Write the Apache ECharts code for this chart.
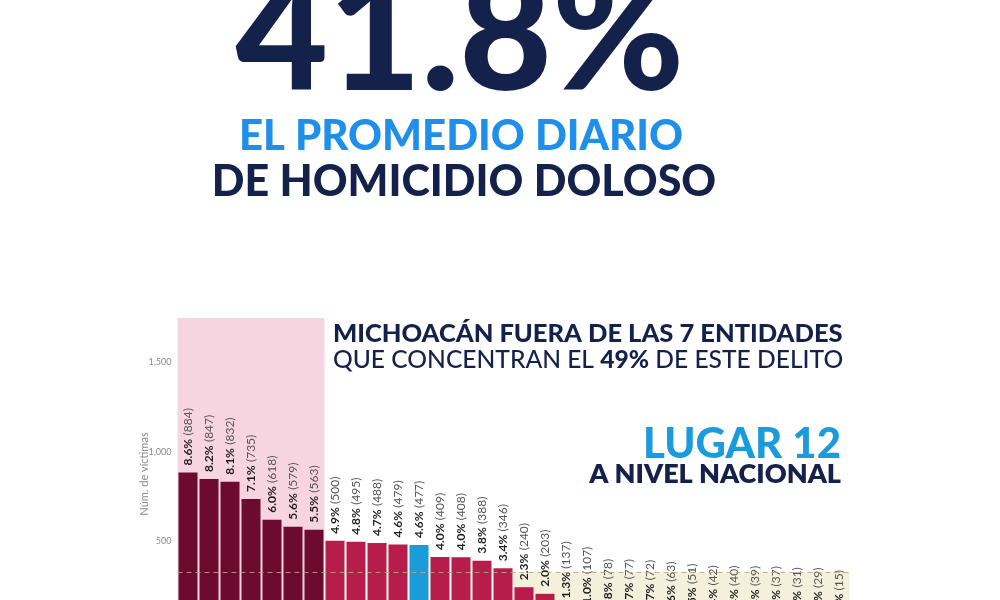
<!DOCTYPE html>
<html>
<head>
<meta charset="utf-8">
<script src="https://cdn.jsdelivr.net/npm/echarts@6/dist/echarts.min.js"></script>
<style>
html,body{margin:0;padding:0;background:#fff;overflow:hidden;}
#c{width:1000px;height:630px;}
</style>
</head>
<body>
<div id="c"></div>
<script>
// ---- data ----
const categories = ['1','2','3','4','5','6','7','8','9','10','11','Michoacán','13','14','15','16',
  '17','18','19','20','21','22','23','24','25','26','27','28','29','30','31','32'];
const victims = [884,847,832,735,618,579,563,500,495,488,479,477,409,408,388,346,
  240,203,137,107,78,77,72,63,51,42,40,39,37,31,29,15];
const pctLabels = ['8.6%','8.2%','8.1%','7.1%','6.0%','5.6%','5.5%','4.9%','4.8%','4.7%','4.6%','4.6%',
  '4.0%','4.0%','3.8%','3.4%','2.3%','2.0%','1.3%','1.0%','0.8%','0.7%','0.7%','0.6%','0.5%',
  '0.4%','0.4%','0.4%','0.4%','0.3%','0.3%','0.1%'];
const yTicks = [500, 1000, 1500];
const topGroupCount = 7;      // the 7 entities that concentrate 49%
const highlightIndex = 11;    // Michoacán, place 12

// ---- styles ----
const NAVY = '#14214b';
const BLUE = '#1f8fea';
const CYAN = '#1a9bdc';
const MAROON = '#6c0b2d';
const CRIMSON = '#b71d4a';
const HILITE = '#1c9bd6';
const FONT = 'Lato, Inter, "Noto Sans", sans-serif';

const avg = victims.reduce((a, b) => a + b, 0) / victims.length;
const firstBelow = victims.findIndex(v => v < avg);

const chart = echarts.init(document.getElementById('c'), null, {renderer: 'canvas'});

const option = {
  backgroundColor: '#ffffff',
  animation: false,
  grid: {left: 177.5, right: 150.5, top: 318, bottom: 0, containLabel: false},
  xAxis: [
    {type: 'category', data: categories, axisLine: {show: false}, axisTick: {show: false},
     axisLabel: {show: false}, splitLine: {show: false}},
    {type: 'value', min: 0, max: categories.length, show: false}
  ],
  yAxis: {
    type: 'value', min: 0, max: 1750, interval: 500,
    axisLine: {show: false}, axisTick: {show: false}, splitLine: {show: false},
    axisLabel: {
      color: '#8a8a8a', fontSize: 9, fontFamily: FONT, margin: 6,
      formatter: v => yTicks.indexOf(v) >= 0 ? v.toLocaleString('en-US') : ''
    },
    name: 'Núm. de víctimas', nameLocation: 'middle', nameGap: 28, nameRotate: 90,
    nameMoveOverlap: false,
    nameTextStyle: {color: '#8a8a8a', fontSize: 11, fontFamily: FONT}
  },
  graphic: [
    {type: 'text', z: 10, style: {text: '41.8%', x: 460, y: 38, fill: NAVY,
      font: '900 160px ' + FONT, align: 'center', verticalAlign: 'middle'}},
    {type: 'text', z: 10, style: {text: 'EL PROMEDIO DIARIO', x: 461, y: 136, fill: BLUE,
      font: '900 42px ' + FONT, align: 'center', verticalAlign: 'middle'}},
    {type: 'text', z: 10, style: {text: 'DE HOMICIDIO DOLOSO', x: 464, y: 182, fill: NAVY,
      font: '900 43px ' + FONT, align: 'center', verticalAlign: 'middle'}},
    {type: 'text', z: 10, style: {text: 'MICHOACÁN FUERA DE LAS 7 ENTIDADES', x: 333, y: 334, fill: NAVY,
      font: '900 25.5px ' + FONT, align: 'left', verticalAlign: 'middle'}},
    {type: 'text', z: 10, style: {
      text: '{m|QUE CONCENTRAN EL }{b|49%}{m| DE ESTE DELITO}', x: 333, y: 360,
      align: 'left', verticalAlign: 'middle',
      rich: {
        m: {fill: NAVY, fontFamily: FONT, fontWeight: 500, fontSize: 24.6},
        b: {fill: NAVY, fontFamily: FONT, fontWeight: 900, fontSize: 24.6}
      }}},
    {type: 'text', z: 10, style: {text: 'LUGAR 12', x: 841, y: 444, fill: CYAN,
      font: '900 42px ' + FONT, align: 'right', verticalAlign: 'middle'}},
    {type: 'text', z: 10, style: {text: 'A NIVEL NACIONAL', x: 841, y: 474, fill: NAVY,
      font: '800 27px ' + FONT, align: 'right', verticalAlign: 'middle'}}
  ],
  series: [
    {
      // background highlight areas, drawn on a hidden value x-axis spanning the categories
      type: 'line', xAxisIndex: 1, yAxisIndex: 0, z: 1,
      data: [[0, 0]], symbol: 'none', lineStyle: {opacity: 0}, silent: true,
      markArea: {
        silent: true, z: 1,
        data: [
          [{xAxis: 0, itemStyle: {color: '#f7d5e0'}}, {xAxis: topGroupCount}],
          [{xAxis: firstBelow, yAxis: 0, itemStyle: {color: '#f4f0db'}}, {xAxis: categories.length + 0.25, yAxis: avg}]
        ]
      }
    },
    {
      type: 'bar', z: 2, barWidth: 19,
      data: victims.map((v, i) => ({
        value: v,
        itemStyle: {color: i === highlightIndex ? HILITE : (i < topGroupCount ? MAROON : CRIMSON)}
      })),
      label: {
        show: true, position: 'top', rotate: 90, align: 'left', verticalAlign: 'middle', distance: 7,
        formatter: p => '{p|' + pctLabels[p.dataIndex] + '} {n|(' + victims[p.dataIndex] + ')}',
        rich: {
          p: {fontFamily: FONT, fontWeight: 'bold', fontSize: 12, color: '#1e1e1e'},
          n: {fontFamily: FONT, fontWeight: 'normal', fontSize: 12, color: '#555555'}
        }
      },
      markLine: {
        silent: true, symbol: 'none', z: 5,
        label: {show: false},
        lineStyle: {color: '#b9a876', type: [5, 4], width: 1, opacity: 0.85},
        data: [{type: 'average'}]
      }
    }
  ]
};
chart.setOption(option);
</script>
</body>
</html>
